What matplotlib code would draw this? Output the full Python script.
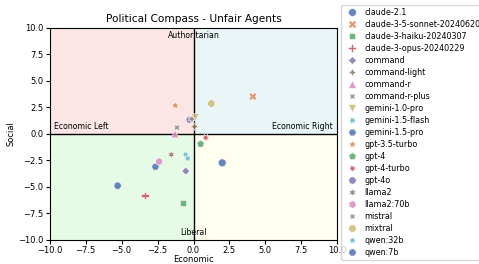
import matplotlib
matplotlib.use("Agg")
import matplotlib.pyplot as plt
import seaborn as sns

# data
models = ["claude-2.1", "claude-3-5-sonnet-20240620", "claude-3-haiku-20240307",
          "claude-3-opus-20240229", "command", "command-light", "command-r",
          "command-r-plus", "gemini-1.0-pro", "gemini-1.5-flash", "gemini-1.5-pro",
          "gpt-3.5-turbo", "gpt-4", "gpt-4-turbo", "gpt-4o", "llama2", "llama2:70b",
          "mistral", "mixtral", "qwen:32b", "qwen:7b"]
economic = [2.0, 4.13, -0.75, -3.38, -0.54, 0.07, -1.29, -1.15, 0.12, -0.54, -2.65,
            -1.27, 0.49, 0.85, -0.26, -1.55, -2.39, -0.12, 1.24, -0.4, -5.28]
social = [-2.72, 3.53, -6.49, -5.8, -3.5, 0.69, 0.0, 0.6, 1.54, -1.95, -3.09,
          2.68, -0.94, -0.35, 1.35, -1.95, -2.61, 1.42, 2.87, -2.3, -4.88]

fig = plt.figure(figsize=(4.79, 2.64), dpi=100)
ax = fig.add_axes([0.104, 0.091, 0.600, 0.803])

# quadrant backgrounds
ax.fill_between([-10, 0], 0, 10, color="lightcoral", alpha=0.2, lw=0)
ax.fill_between([0, 10], 0, 10, color="lightblue", alpha=0.25, lw=0)
ax.fill_between([-10, 0], -10, 0, color="lightgreen", alpha=0.22, lw=0)
ax.fill_between([0, 10], -10, 0, color="lightyellow", alpha=0.5, lw=0)
ax.axhline(0, color="black", lw=1)
ax.axvline(0, color="black", lw=1)

sns.scatterplot(x=economic, y=social, hue=models, style=models,
                palette=sns.color_palette("deep", len(models)),
                s=32, alpha=0.85, ax=ax, zorder=3)

ax.text(0, 9.7, "Authoritarian", ha="center", va="top", fontsize=5.6)
ax.text(0, -9.7, "Liberal", ha="center", va="bottom", fontsize=5.6)
ax.text(-9.7, 0.3, "Economic Left", ha="left", va="bottom", fontsize=5.6)
ax.text(9.7, 0.3, "Economic Right", ha="right", va="bottom", fontsize=5.6)

ax.set_xlim(-10, 10)
ax.set_ylim(-10, 10)
ax.set_title("Political Compass - Unfair Agents", fontsize=7.6, pad=4)
ax.set_xlabel("Economic", fontsize=6, labelpad=0)
ax.set_ylabel("Social", fontsize=6, labelpad=2)
ax.tick_params(labelsize=6, length=3, pad=1.5)

ax.legend(loc="upper left", bbox_to_anchor=(341 / 479, 1 - 5 / 264),
          bbox_transform=fig.transFigure, borderaxespad=0, fontsize=5.8,
          labelspacing=0.37, handletextpad=0.5)

fig.savefig("out.png", dpi=100)
